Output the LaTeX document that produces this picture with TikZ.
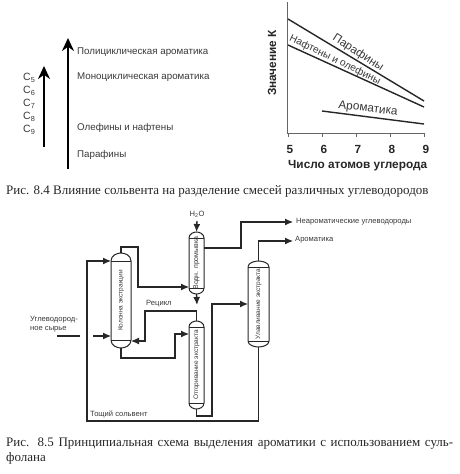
\documentclass[tikz,border=0pt]{standalone}
\usepackage{fontspec}
\setmainfont{Liberation Sans}
\newfontfamily\capfont{Liberation Serif}
\usetikzlibrary{arrows.meta,calc}
\definecolor{ink}{gray}{0.22}
\tikzset{
  flow/.style={draw=ink!70!black,line width=1.05pt,-{Latex[length=8pt,width=7pt]}},
  plain/.style={draw=ink!70!black,line width=1.05pt},
  bigarrow/.style={draw=black,line width=2.8pt,-{Stealth[length=13pt,width=12pt]}},
  lbl/.style={font=\fontsize{9.75}{11}\selectfont,text=ink,inner sep=0pt,anchor=west},
  small/.style={font=\fontsize{7.6}{9.2}\selectfont,text=ink,inner sep=0pt},
  vlabel/.style={font=\fontsize{6.5}{8}\selectfont,text=ink,inner sep=0pt},
  chartline/.style={draw=black!85,line width=1.4pt},
  axis/.style={draw=black!60,line width=0.8pt},
  tick/.style={font=\bfseries\fontsize{11.8}{14}\selectfont,text=black!85,inner sep=0pt},
  caption/.style={font=\capfont\fontsize{13}{14}\selectfont,text=black!85,inner sep=0pt,anchor=west},
  colbox/.style={inner sep=0pt,outer sep=0pt,draw=none}
}
% name, x left, x right, y top, y bottom, cap height, label
\newcommand{\vessel}[7]{%
  \node[colbox,minimum width=#3pt-#2pt,minimum height=#5pt-#4pt] (#1) at ({(#2+#3)/2},{(#4+#5)/2}) {};
  \draw[plain,line width=1pt,fill=white]
    (#2,#4+#6) .. controls (#2,#4+0.3*#6) and ({#2+0.3*(#3-#2)},#4) .. ({(#2+#3)/2},#4)
    .. controls ({#3-0.3*(#3-#2)},#4) and (#3,#4+0.3*#6) .. (#3,#4+#6)
    -- (#3,#5-#6)
    .. controls (#3,#5-0.3*#6) and ({#3-0.3*(#3-#2)},#5) .. ({(#2+#3)/2},#5)
    .. controls ({#2+0.3*(#3-#2)},#5) and (#2,#5-0.3*#6) .. (#2,#5-#6) -- cycle;
  \draw[plain,line width=1pt] (#2,#4+#6) -- (#3,#4+#6) (#2,#5-#6) -- (#3,#5-#6);
  \node[vlabel,rotate=90] (#1t) at ({(#2+#3)/2},{(#4+#5)/2}) {#7};
}
\begin{document}
\begin{tikzpicture}[x=1pt,y=-1pt]
\useasboundingbox (0,0) rectangle (459,474);
% --- fig 8.4 left
\coordinate (bigS) at (68,169); \coordinate (bigE) at (68,38);
\coordinate (smS) at (44,147); \coordinate (smE) at (44,66);
\draw[bigarrow] (bigS) -- (bigE);
\draw[bigarrow] (smS) -- (smE);
\node[lbl] (l1) at (77,52) {Полициклическая ароматика};
\node[lbl] (l2) at (77,77) {Моноциклическая ароматика};
\node[lbl] (l3) at (77,128) {Олефины и нафтены};
\node[lbl] (l4) at (77,155) {Парафины};
\foreach \n/\y in {5/78,6/91,7/104,8/117,9/130}
  \node[lbl,font=\fontsize{10.5}{12}\selectfont] (c\n) at (23,\y) {C\textsubscript{\n}};
% --- chart
\coordinate (org) at (287.5,133); \coordinate (ytop) at (287.5,2); \coordinate (xend) at (424,133);
\draw[axis] (ytop) -- (org) -- (xend);
\foreach \n/\x in {5/288,6/322,7/356,8/390,9/424}{
  \coordinate (t\n) at (\x,133); \coordinate (u\n) at (\x,137);
  \draw[axis] (t\n) -- (u\n);
  \node[tick] (n\n) at (\x+2,149) {\n};
}
\node[tick,anchor=west] (xl) at (288,166) {Число атомов углерода};
\node[tick,rotate=90] (yl) at (272,63) {Значение К};
\coordinate (pa) at (288,19); \coordinate (pb) at (424,101);
\coordinate (na) at (288,45); \coordinate (nb) at (424,107);
\coordinate (aa) at (322,111); \coordinate (ab) at (424,124);
\draw[chartline] (pa) -- (pb);
\draw[chartline] (na) -- (nb);
\draw[chartline] (aa) -- (ab);
\node[lbl,anchor=center,font=\fontsize{11.5}{12}\selectfont,rotate=-33] (lp) at (358,53) {Парафины};
\node[lbl,anchor=center,font=\fontsize{10.2}{12}\selectfont,rotate=-26] (ln) at (335,60) {Нафтены и олефины};
\node[lbl,anchor=center,font=\fontsize{11.8}{12}\selectfont,rotate=-7] (la) at (368,109) {Ароматика};
\node[caption] (cap4) at (6,191) {Рис. 8.4 Влияние сольвента на разделение смесей различных углеводородов};
% --- fig 8.5 vessels
\vessel{k1}{111}{131}{253}{348}{8}{Колонна экстракции}
\vessel{k2}{189}{204}{232}{294}{6}{\fontsize{7}{9}\selectfont Водн. промывка}
\vessel{k3}{189}{204}{321}{409}{6}{Отгоривание экстракта}
\vessel{k4}{248}{269}{261}{347}{6}{Улавливание экстракта}
% labels
\node[small] (h2o) at (197,214) {H\textsubscript{2}O};
\node[small,anchor=west] (nar) at (296,222) {Неароматические углеводороды};
\node[small,anchor=west] (aro) at (295,240) {Ароматика};
\node[small,anchor=west] (rec) at (146,304) {Рецикл};
\node[small,anchor=west,align=left] (feed) at (30,324.5) {Углеводород-\\ное сырье};
\node[small,anchor=west] (lean) at (90,414) {Тощий сольвент};
% connectors
\coordinate (fa) at (57,336); \coordinate (fb) at (80,336); \coordinate (fc) at (93,336);
\coordinate (w2) at (241,248); \coordinate (w2t) at (241,222);
\coordinate (outN) at (293,222); \coordinate (outA) at (293,241);
\coordinate (h2oE) at (197,221);
\coordinate (k2o) at (197,305);
\draw[plain] (fa) -- (fb);
\draw[flow] (fc) -- (k1.west |- fc);
\draw[flow,line width=1.4pt] (h2o.south |- h2oE) -- (k2.north);
\draw[flow] (k2.east |- w2) -- (w2) -- (w2t) -- (outN);
\draw[flow] (k4.north) |- (outA);
\draw[flow] (k1.north) -- ++(0,-6) -| (138,287) -- (k2.west |- 0,287);
\draw[flow,line width=1.4pt] (k2.south) -- (k2o);
\draw[flow] (k3.north) -- ++(0,-10) -| (145,341) -- (k1.east |- 0,341);
\draw[flow] (k1.south) -- ++(0,10) -| (175,334) -- (k3.west |- 0,334);
\draw[flow] (k4.south) -- (k4.south |- 0,421) -| (87,261) -- (k1.west |- 0,261);
\draw[flow] (k3.south) -- ++(0,7) -| (212,304) -- (k4.west |- 0,304);
% captions
\node[caption] (cap5) at (6,444) {\makebox[447pt][s]{Рис. 8.5 Принципиальная схема выделения ароматики с использованием суль-}};
\node[caption] (cap5b) at (6,458) {фолана};
\end{tikzpicture}
\end{document}
